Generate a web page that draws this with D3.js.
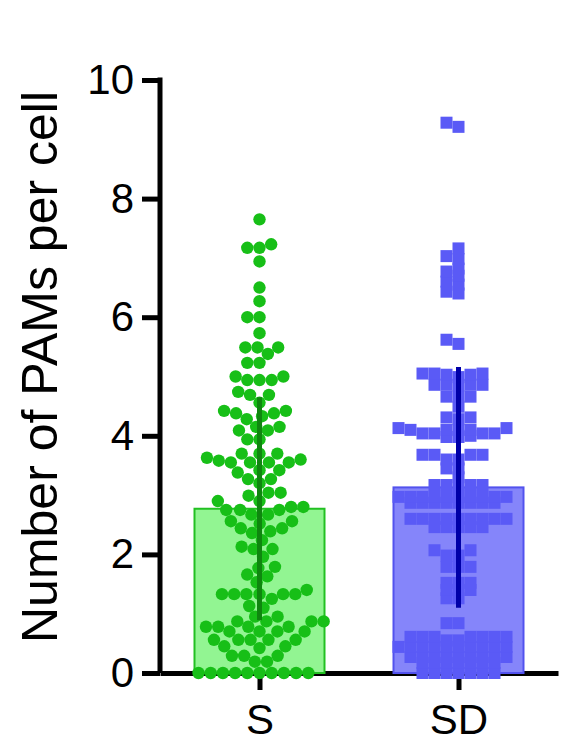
<!DOCTYPE html>
<html>
<head>
<meta charset="utf-8">
<script src="https://cdn.jsdelivr.net/npm/d3@7"></script>
<style>
body { margin: 0; background: #fff; }
svg { display: block; }
text { font-family: "Liberation Sans", Arial, Helvetica, sans-serif; fill: #000; }
</style>
</head>
<body>
<svg id="chart" width="576" height="742"></svg>
<script>
var groups = ["S", "SD"];
var barMeans = [2.77, 3.13];
var barSD = [1.88, 2.03];
var yTicks = [0, 2, 4, 6, 8, 10];

var sValues = [0,0,0,0,0,0,0,0,0,0,
	0.19,0.19,0.29,0.29,0.29,0.42,0.45,0.45,
	0.56,0.56,0.56,0.56,0.56,0.70,0.70,0.70,0.70,
	0.78,0.78,0.78,0.78,0.87,0.87,0.87,0.87,0.95,0.95,
	1.10,1.13,1.25,1.33,1.33,1.33,1.33,1.33,1.33,
	1.40,1.53,1.63,1.66,1.77,1.79,1.96,2.09,2.09,2.13,2.24,2.36,2.39,
	2.44,2.44,2.52,2.56,2.56,2.67,2.67,2.75,2.75,2.75,2.80,2.80,2.90,2.90,
	2.99,3.04,3.04,3.20,3.27,3.27,3.38,3.42,3.42,3.55,3.55,3.55,3.55,
	3.58,3.60,3.63,3.70,3.70,3.70,3.94,3.94,4.09,4.09,4.15,4.15,
	4.28,4.33,4.38,4.38,4.42,4.42,4.56,4.69,4.69,4.74,4.94,4.94,4.94,
	5.00,5.00,5.23,5.23,5.38,5.49,5.49,5.49,5.73,6.00,6.00,6.27,6.50,
	6.94,7.17,7.17,7.23,7.65];

var sdValues = [0,0,0,0,0,0,0,
	0.17,0.17,0.17,0.17,0.17,0.17,0.17,
	0.27,0.27,0.27,0.27,0.27,0.27,0.27,0.27,0.27,
	0.44,0.44,0.44,0.44,0.44,0.44,0.44,0.44,0.44,0.44,
	0.55,0.55,0.61,0.61,0.61,0.61,0.61,0.61,0.61,0.84,0.84,
	1.26,1.26,1.40,1.40,1.40,1.52,1.52,1.52,1.79,1.79,1.79,
	1.98,1.98,2.07,2.07,2.46,2.46,2.46,2.46,2.46,
	2.60,2.60,2.60,2.60,2.60,2.60,2.60,2.60,2.60,
	2.87,2.87,2.87,2.87,2.87,2.87,2.87,2.87,
	2.97,2.97,2.97,2.97,2.97,2.97,2.97,2.97,2.97,2.97,
	3.17,3.17,3.17,3.17,3.17,3.30,3.45,3.45,3.60,3.60,
	3.68,3.68,3.68,3.68,3.98,3.98,4.00,4.04,4.04,4.04,4.04,
	4.10,4.10,4.10,4.10,4.13,4.13,4.28,4.31,4.31,4.49,4.66,4.66,4.66,
	4.85,4.86,4.86,4.86,4.86,4.99,5.03,5.03,5.05,5.05,5.05,5.55,5.62,
	6.40,6.43,6.55,6.60,6.70,6.77,6.82,6.98,7.03,7.16,9.21,9.28];

var svg = d3.select("#chart");

var x = d3.scalePoint().domain(groups).range([160, 558]).padding(0.5);
var y = d3.scaleLinear().domain([0, 10]).range([673, 80]);

var style = {
	S:  { bar: "#92f592", edge: "#22c022", dot: "#17bf17", err: "#0f860f" },
	SD: { bar: "#8585fa", edge: "#5252ee", dot: "#5a5af6", err: "#0000a8" }
};

// beeswarm: each point goes to the free x offset nearest the centre.
// gap(dy) gives the half width blocked by a neighbour dy pixels away (0 = no clash)
function swarm(values, gap) {
	var pts = values.slice().sort(d3.ascending).map(function(v) {
		return { v: v, y: y(v), dx: 0 };
	});
	var placed = [];
	pts.forEach(function(p) {
		var blocked = [];
		placed.forEach(function(q) {
			var w = gap(Math.abs(q.y - p.y));
			if (w > 0) blocked.push([q.dx - w, q.dx + w]);
		});
		var cands = [0];
		blocked.forEach(function(b) { cands.push(b[0], b[1]); });
		cands.sort(function(a, b) { return Math.abs(a) - Math.abs(b); });
		for (var i = 0; i < cands.length; i++) {
			var c = cands[i];
			var ok = blocked.every(function(b) { return c <= b[0] + 1e-6 || c >= b[1] - 1e-6; });
			if (ok) { p.dx = c; break; }
		}
		placed.push(p);
	});
	return pts;
}
function circleGap(dy) { var d = 12.2; return dy < d ? Math.sqrt(d * d - dy * dy) : 0; }
function squareGap(dy) { return dy < 5.5 ? 12 : 0; }

// axes
var yAxis = svg.append("g")
	.attr("transform", "translate(160,0)")
	.call(d3.axisLeft(y).tickValues(yTicks).tickSize(18).tickSizeOuter(0).tickPadding(8));
var xAxis = svg.append("g")
	.attr("transform", "translate(0,673)")
	.call(d3.axisBottom(x).tickSize(17).tickSizeOuter(0).tickPadding(14));

[yAxis, xAxis].forEach(function(g) {
	g.selectAll("path, line").attr("stroke", "#000").attr("stroke-width", 5);
	g.selectAll("text").attr("font-size", 42).attr("fill", "#000")
		.style("font-family", "'Liberation Sans', Arial, sans-serif");
});
yAxis.select(".domain").attr("d", "M0," + (y(10) - 2.5) + "V" + y(0));

svg.append("text")
	.attr("transform", "translate(57,367) rotate(-90)")
	.attr("text-anchor", "middle")
	.attr("font-size", 50)
	.text("Number of PAMs per cell");

// bars
var halfBar = 65;
svg.selectAll(".bar")
	.data(groups).enter().append("rect")
	.attr("class", "bar")
	.attr("x", function(g) { return x(g) - halfBar; })
	.attr("y", function(g, i) { return y(barMeans[i]); })
	.attr("width", halfBar * 2)
	.attr("height", function(g, i) { return y(0) - y(barMeans[i]); })
	.attr("fill", function(g) { return style[g].bar; })
	.attr("stroke", function(g) { return style[g].edge; })
	.attr("stroke-width", 2);

// points
var sPts = swarm(sValues, circleGap);
svg.append("g").selectAll("circle")
	.data(sPts).enter().append("circle")
	.attr("cx", function(d) { return x("S") + d.dx; })
	.attr("cy", function(d) { return d.y; })
	.attr("r", 6.2)
	.attr("fill", style.S.dot);

var sdPts = swarm(sdValues, squareGap);
svg.append("g").selectAll("rect")
	.data(sdPts).enter().append("rect")
	.attr("x", function(d) { return x("SD") + d.dx - 6; })
	.attr("y", function(d) { return d.y - 6; })
	.attr("width", 12)
	.attr("height", 12)
	.attr("fill", style.SD.dot);

// error bars (mean +/- SD)
svg.selectAll(".err")
	.data(groups).enter().append("line")
	.attr("class", "err")
	.attr("x1", function(g) { return x(g); })
	.attr("x2", function(g) { return x(g); })
	.attr("y1", function(g, i) { return y(barMeans[i] - barSD[i]); })
	.attr("y2", function(g, i) { return y(barMeans[i] + barSD[i]); })
	.attr("stroke", function(g) { return style[g].err; })
	.attr("stroke-width", 5);
</script>
</body>
</html>
